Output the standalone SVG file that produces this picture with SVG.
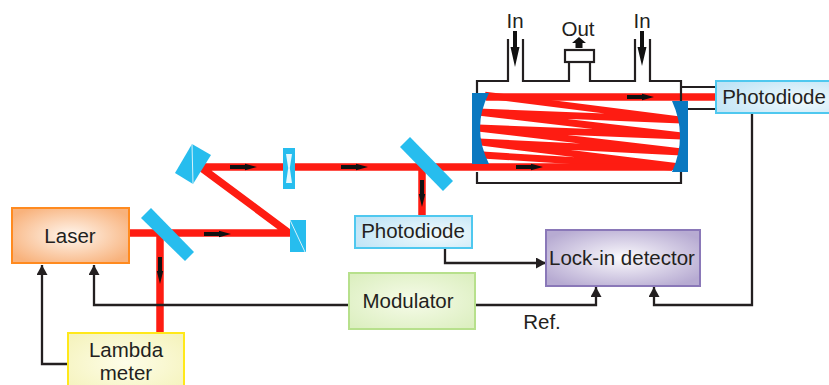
<svg xmlns="http://www.w3.org/2000/svg" width="829" height="385" viewBox="0 0 829 385">
<style>
text{font-family:"Liberation Sans",Arial,sans-serif;font-size:20.5px;fill:#231f20;text-anchor:middle}
.wire{fill:none;stroke:#231f20;stroke-width:2.3}
.beam{fill:none;stroke:#fe1c12;stroke-width:7.5;stroke-linejoin:miter}
.thin{fill:none;stroke:#fe1c12;stroke-width:6.8;stroke-linejoin:round}
.cell{fill:none;stroke:#231f20;stroke-width:2.2}
.opt{fill:#27bdee}
.mir{fill:#0a78c0}
.gap{fill:none;stroke:#d6f2fb;stroke-width:1}
.ba{fill:#111}
.pd{fill:url(#gPd);stroke:#4fc8ef;stroke-width:2}
</style>
<defs>
<radialGradient id="gLaser" cx="0.5" cy="0.5" r="0.6"><stop offset="0" stop-color="#fff6ee"/><stop offset="1" stop-color="#f8b27c"/></radialGradient>
<radialGradient id="gLambda" cx="0.5" cy="0.5" r="0.65"><stop offset="0" stop-color="#fdfde8"/><stop offset="1" stop-color="#f5f3bd"/></radialGradient>
<radialGradient id="gMod" cx="0.5" cy="0.5" r="0.65"><stop offset="0" stop-color="#f6fbe9"/><stop offset="1" stop-color="#dcefc0"/></radialGradient>
<radialGradient id="gLock" cx="0.5" cy="0.5" r="0.6"><stop offset="0" stop-color="#fbfafd"/><stop offset="1" stop-color="#b7abd2"/></radialGradient>
<radialGradient id="gPd" cx="0.7" cy="0.6" r="0.8"><stop offset="0" stop-color="#f2fafd"/><stop offset="1" stop-color="#bfe4f6"/></radialGradient>
<marker id="ah" markerUnits="userSpaceOnUse" markerWidth="12" markerHeight="12" refX="10" refY="5.5" orient="auto"><path d="M0,0 L10,5.5 L0,11 Z" fill="#231f20"/></marker>
<path id="arrowH" class="ba" d="M0,-2 H15 L15,-3.2 L27,0 L15,3.2 L15,2 H0 Z"/>
<path id="arrowV" class="ba" d="M-2,0 V14 L-3.2,14 L0,27 L3.2,14 L2,14 V0 Z"/>
</defs>

<g id="beams">
<path class="thin" d="M485,95 L682,120 L478,112 L682,136 L478,128 L682,152 L479,142 L682,167 L482,155 L672,167"/>
<path class="beam" d="M129,233 H289 L203,169 L204,167 H486 H672"/>
<path class="beam" d="M486,97 H716"/>
<path class="beam" d="M160,233 V333"/>
<path class="beam" d="M422,167 V216"/>
</g>

<g id="gas-cell">
<path class="cell" d="M477,93 V81 H508 V39 M523,39 V81 H569 V62 M590,62 V81 H635 V39 M650,39 V81 H681 V101 M681,172 V183 H477 V172 M681,87 H716 M681,109 H716"/>
<rect x="565" y="50" width="29" height="12" fill="#fff" stroke="#231f20" stroke-width="2.2"/>
<path class="mir" d="M472,93 H489 Q471,128 489,164 H472 Z"/>
<path class="mir" d="M672,101 H688 V172 H672 Q688,136 672,101 Z"/>
</g>

<g id="optics">
<path id="splitter-1" class="opt" d="M151,208 L194,252 L185,261 L141,218 Z"/>
<path id="splitter-2" class="opt" d="M410,137 L453,181 L443,191 L400,147 Z"/>
<g id="prism"><path class="opt" d="M192,144 L211,155 L193,184 L175,173 Z"/><path class="gap" d="M192,144 L193,184"/></g>
<g id="waveplate"><rect class="opt" x="283" y="148" width="12" height="41"/><path d="M286,154 L292,154 L289.8,168 L292,183 L286,183 L288.2,168 Z" fill="#e8f8fd"/></g>
<g id="prism-2"><rect class="opt" x="290" y="220" width="16" height="32"/><path class="gap" d="M290,220 L305,252"/></g>
</g>

<g id="connectors">
<path class="wire" d="M68,364 H42 V265" marker-end="url(#ah)"/>
<path class="wire" d="M349,305 H94 V265" marker-end="url(#ah)"/>
<path class="wire" d="M445,248 V263 H546" marker-end="url(#ah)"/>
<path class="wire" d="M475,305 H596 V287" marker-end="url(#ah)"/>
<path class="wire" d="M752,113 V305 H654 V287" marker-end="url(#ah)"/>
</g>

<g id="beam-arrows">
<use href="#arrowH" x="230" y="167"/>
<use href="#arrowH" x="341" y="167"/>
<use href="#arrowH" x="516" y="167"/>
<use href="#arrowH" x="627" y="97"/>
<use href="#arrowH" x="204" y="234"/>
<use href="#arrowV" x="422" y="180"/>
<use href="#arrowV" x="160" y="257"/>
<path class="ba" d="M513,31 H517 V47 H519.5 L515,67 L510.5,47 H513 Z"/>
<path class="ba" d="M640,31 H644 V47 H646.5 L642,66 L637.5,47 H640 Z"/>
<path class="ba" d="M579,37 L586,43 H582.5 V48 H575.5 V43 H572 Z"/>
</g>

<g id="laser"><rect x="12" y="208" width="117" height="55" fill="url(#gLaser)" stroke="#ff8a1f" stroke-width="2"/><text x="70" y="243">Laser</text></g>
<g id="lambda-meter"><rect x="68" y="333" width="116" height="60" fill="url(#gLambda)" stroke="#ffe81a" stroke-width="2"/><text x="126" y="357">Lambda</text><text x="126" y="380">meter</text></g>
<g id="photodiode-1"><rect class="pd" x="355" y="216" width="117" height="32"/><text x="413" y="238">Photodiode</text></g>
<g id="photodiode-2"><rect class="pd" x="716" y="81" width="120" height="32"/><text x="774" y="104">Photodiode</text></g>
<g id="lock-in"><rect x="546" y="230" width="154" height="56" fill="url(#gLock)" stroke="#8a78b8" stroke-width="2"/><text x="622" y="265">Lock-in detector</text></g>
<g id="modulator"><rect x="349" y="273" width="126" height="56" fill="url(#gMod)" stroke="#b7e08c" stroke-width="2"/><text x="408" y="308">Modulator</text></g>

<g id="labels">
<text x="515" y="28">In</text>
<text x="642" y="28">In</text>
<text x="578" y="36">Out</text>
<text x="542" y="329">Ref.</text>
</g>
</svg>
